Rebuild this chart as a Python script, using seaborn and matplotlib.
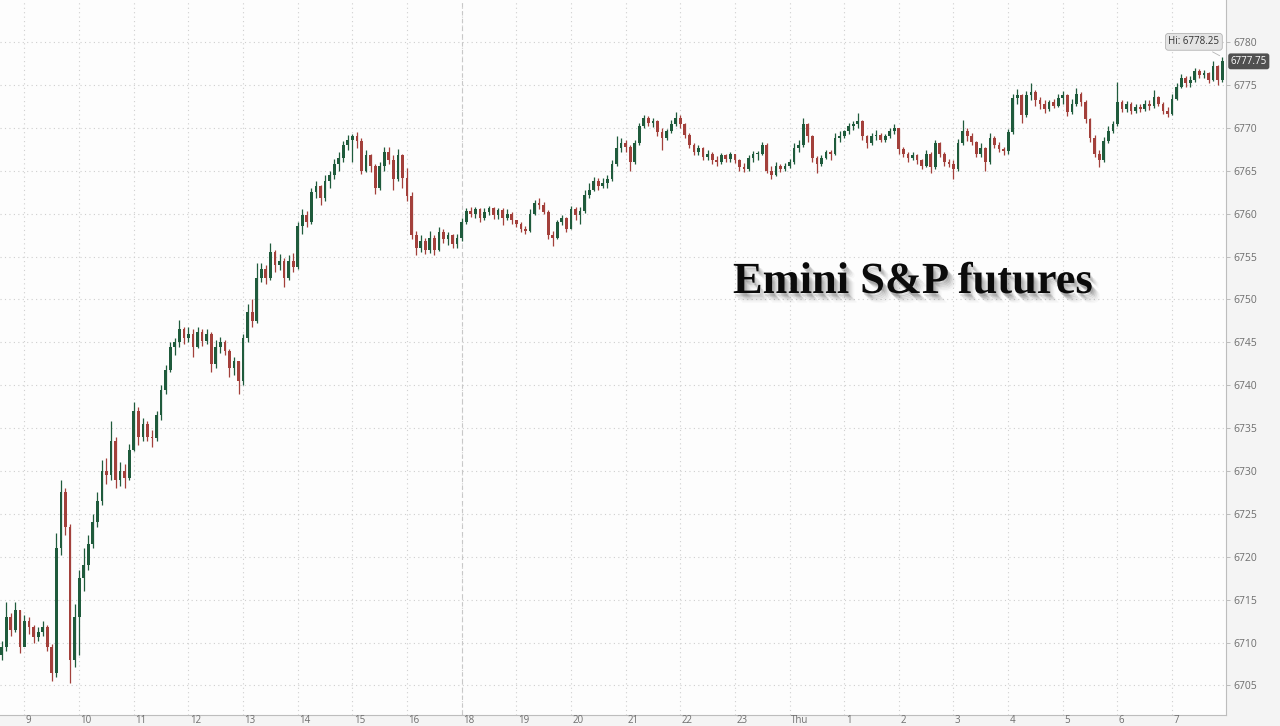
import numpy as np
import matplotlib
matplotlib.use("Agg")
import matplotlib.pyplot as plt
import matplotlib.patheffects as pe
import matplotlib.transforms as mtransforms
import seaborn as sns

# 5-minute bars of the Emini S&P future, 08:35 -> 07:55 next morning
# (the 17:00-18:00 maintenance break is skipped, so bars are contiguous)
first_open = 6708.5

closes = [
    # 08:35-08:55
    6709.5, 6713.0, 6711.5, 6713.8, 6709.5,
    # 9
    6712.5, 6711.8, 6710.6, 6711.2, 6711.8, 6709.5, 6706.5, 6721.0, 6727.5, 6723.5, 6708.0, 6713.0,
    # 10
    6717.5, 6719.0, 6721.5, 6724.0, 6726.5, 6730.0, 6729.5, 6733.5, 6729.0, 6730.0, 6729.2, 6732.5,
    # 11
    6737.0, 6734.0, 6735.5, 6734.0, 6733.8, 6736.5, 6739.5, 6741.8, 6744.5, 6745.0, 6746.5, 6745.5,
    # 12
    6746.0, 6744.5, 6746.2, 6745.2, 6746.0, 6742.5, 6744.5, 6745.0, 6744.0, 6742.0, 6742.8, 6740.5,
    # 13
    6745.5, 6748.5, 6747.5, 6752.5, 6753.5, 6752.5, 6755.5, 6754.0, 6754.5, 6752.5, 6754.5, 6753.8,
    # 14
    6758.5, 6759.8, 6759.0, 6762.5, 6763.2, 6761.8, 6763.8, 6764.5, 6765.8, 6766.5, 6768.0, 6768.6,
    # 15
    6769.0, 6768.5, 6765.0, 6766.8, 6765.5, 6763.0, 6765.5, 6767.2, 6766.3, 6764.0, 6766.8, 6764.2,
    # 16
    6762.0, 6757.5, 6756.0, 6756.8, 6755.8, 6757.2, 6755.8, 6757.8, 6757.0, 6757.5, 6756.5, 6757.2,
    # 18
    6759.0, 6760.3, 6760.0, 6760.5, 6759.5, 6760.2, 6760.6, 6759.8, 6760.4, 6759.5, 6760.0, 6759.2,
    # 19
    6758.8, 6758.2, 6758.0, 6760.0, 6761.2, 6761.0, 6760.2, 6757.5, 6757.2, 6759.0, 6759.5, 6758.2,
    # 20
    6760.5, 6759.8, 6760.3, 6762.2, 6762.8, 6763.8, 6763.2, 6763.6, 6764.0, 6765.8, 6767.6, 6768.2,
    # 21
    6767.8, 6766.0, 6768.2, 6770.2, 6771.2, 6770.6, 6770.8, 6769.5, 6768.8, 6769.6, 6770.5, 6771.2,
    # 22
    6770.5, 6769.2, 6768.0, 6767.2, 6767.6, 6766.6, 6767.0, 6766.2, 6766.0, 6766.8, 6766.4, 6766.9,
    # 23
    6766.2, 6765.4, 6765.2, 6766.5, 6766.9, 6767.0, 6768.0, 6765.0, 6764.5, 6765.6, 6765.2, 6765.6,
    # Thu 0
    6766.0, 6767.6, 6768.0, 6770.4, 6769.0, 6766.5, 6765.8, 6766.5, 6767.2, 6766.9, 6768.8, 6769.0,
    # 1
    6769.6, 6770.2, 6770.5, 6770.8, 6769.0, 6768.2, 6769.0, 6769.2, 6768.6, 6769.0, 6769.6, 6770.0,
    # 2
    6767.5, 6767.0, 6766.5, 6766.8, 6766.2, 6765.6, 6767.0, 6765.4, 6768.2, 6767.0, 6766.0, 6765.8,
    # 3
    6765.2, 6768.2, 6769.6, 6769.0, 6768.4, 6767.0, 6767.6, 6766.0, 6768.8, 6768.0, 6767.5, 6767.3,
    # 4
    6769.5, 6773.5, 6773.8, 6771.5, 6773.8, 6774.2, 6773.2, 6772.8, 6772.2, 6773.0, 6772.6, 6773.5,
    # 5
    6773.8, 6771.8, 6772.8, 6774.0, 6773.0, 6771.0, 6768.8, 6767.0, 6766.2, 6768.5, 6769.6, 6770.4,
    # 6
    6773.0, 6772.2, 6772.8, 6772.0, 6772.4, 6772.2, 6772.8, 6772.5, 6773.6, 6772.8, 6772.0, 6771.6,
    # 7
    6773.4, 6774.8, 6775.8, 6775.2, 6775.6, 6776.6, 6776.2, 6776.4, 6775.6, 6777.2, 6775.6, 6777.75,
]

highs = [
    6710.2, 6714.7, 6713.5, 6714.7, 6713.8,
    6713.2, 6713.0, 6712.0, 6711.8, 6712.5, 6712.0, 6709.8, 6722.8, 6729.0, 6728.0, 6723.8, 6714.5,
    6718.5, 6721.0, 6722.5, 6725.0, 6727.5, 6731.3, 6731.5, 6735.8, 6734.0, 6731.0, 6730.8, 6733.2,
    6738.0, 6737.5, 6736.2, 6735.8, 6734.8, 6737.0, 6740.0, 6742.3, 6745.0, 6745.5, 6747.6, 6746.8,
    6746.8, 6746.5, 6746.8, 6746.6, 6746.6, 6746.2, 6745.3, 6745.6, 6745.3, 6744.2, 6743.3, 6742.8,
    6746.0, 6749.5, 6750.0, 6754.3, 6754.2, 6754.0, 6756.6, 6755.8, 6755.3, 6754.8, 6755.2, 6755.4,
    6759.0, 6760.5, 6760.3, 6763.0, 6763.8, 6763.3, 6764.5, 6765.0, 6766.4, 6767.2, 6768.5, 6769.2,
    6769.3, 6769.5, 6768.8, 6767.4, 6767.0, 6765.8, 6766.0, 6767.8, 6767.8, 6766.8, 6767.5, 6767.0,
    6765.3, 6762.5, 6758.0, 6757.5, 6757.2, 6758.0, 6757.5, 6758.4, 6758.2, 6757.8, 6757.6, 6757.6,
    6759.5, 6760.7, 6760.8, 6760.8, 6760.6, 6760.6, 6760.9, 6760.8, 6760.7, 6760.6, 6760.5, 6760.2,
    6759.3, 6759.0, 6758.6, 6760.5, 6761.6, 6761.8, 6761.3, 6760.4, 6758.0, 6759.3, 6759.8, 6759.6,
    6760.9, 6760.8, 6760.8, 6762.8, 6763.6, 6764.3, 6764.2, 6764.2, 6764.5, 6766.2, 6769.0, 6768.8,
    6768.6, 6768.0, 6768.6, 6770.6, 6771.5, 6771.4, 6771.2, 6770.9, 6770.0, 6769.9, 6770.9, 6771.8,
    6771.5, 6770.6, 6769.4, 6768.2, 6768.0, 6767.8, 6767.4, 6767.2, 6766.7, 6767.1, 6767.0, 6767.2,
    6767.0, 6766.4, 6765.9, 6766.8, 6767.3, 6767.3, 6768.4, 6768.2, 6765.5, 6766.0, 6765.8, 6765.9,
    6766.4, 6768.2, 6768.6, 6771.2, 6770.6, 6769.2, 6766.7, 6766.8, 6767.4, 6767.4, 6769.4, 6769.6,
    6769.8, 6770.6, 6770.8, 6771.7, 6770.9, 6769.2, 6769.4, 6769.8, 6769.4, 6769.3, 6770.0, 6770.5,
    6770.0, 6767.8, 6767.2, 6767.2, 6767.0, 6766.4, 6767.4, 6767.2, 6768.6, 6768.4, 6767.2, 6766.4,
    6766.2, 6768.7, 6770.9, 6770.0, 6769.4, 6768.5, 6768.2, 6767.8, 6769.4, 6769.0, 6768.4, 6767.8,
    6769.9, 6774.0, 6774.5, 6774.0, 6774.3, 6775.2, 6774.4, 6773.6, 6773.2, 6773.3, 6773.4, 6774.0,
    6774.3, 6773.9, 6773.4, 6774.6, 6774.2, 6773.2, 6771.2, 6769.2, 6767.4, 6768.9, 6770.2, 6770.8,
    6775.4, 6773.2, 6773.1, 6773.0, 6772.8, 6772.8, 6773.2, 6773.2, 6774.4, 6773.7, 6773.0, 6772.4,
    6773.9, 6775.2, 6776.3, 6776.0, 6776.0, 6777.0, 6776.9, 6776.7, 6776.5, 6777.8, 6777.3, 6778.25,
]

lows = [
    6708.0, 6709.0, 6710.8, 6711.2, 6708.8,
    6711.0, 6711.0, 6710.0, 6710.2, 6710.8, 6709.0, 6705.5, 6706.0, 6720.2, 6722.5, 6705.3, 6707.2,
    6708.6, 6716.0, 6718.5, 6721.0, 6723.5, 6726.0, 6728.5, 6729.0, 6728.0, 6728.3, 6728.0, 6729.0,
    6732.3, 6733.0, 6733.5, 6733.5, 6732.8, 6733.5, 6736.0, 6739.0, 6741.5, 6743.5, 6744.5, 6744.8,
    6745.0, 6743.3, 6744.3, 6744.6, 6744.8, 6741.5, 6742.0, 6743.8, 6743.5, 6741.0, 6741.2, 6739.0,
    6740.0, 6745.0, 6746.8, 6747.2, 6752.0, 6751.8, 6752.3, 6753.2, 6753.4, 6751.5, 6752.3, 6753.2,
    6753.5, 6757.6, 6758.4, 6758.8, 6761.8, 6761.0, 6761.5, 6763.0, 6764.0, 6765.0, 6766.0, 6767.4,
    6766.0, 6767.6, 6764.6, 6764.8, 6764.8, 6762.3, 6762.8, 6765.0, 6765.8, 6762.8, 6763.8, 6763.0,
    6761.5, 6757.0, 6755.2, 6755.5, 6755.3, 6755.4, 6755.2, 6755.6, 6756.6, 6756.4, 6756.0, 6756.0,
    6756.8, 6758.8, 6759.6, 6759.5, 6759.0, 6759.3, 6759.8, 6759.4, 6759.4, 6758.7, 6759.3, 6758.8,
    6758.4, 6757.8, 6757.6, 6757.9, 6759.8, 6760.5, 6760.0, 6757.0, 6756.2, 6757.0, 6758.7, 6757.9,
    6758.2, 6759.3, 6758.8, 6760.1, 6761.8, 6762.6, 6762.8, 6763.0, 6763.0, 6763.8, 6765.5, 6767.2,
    6767.2, 6765.0, 6765.8, 6768.0, 6770.0, 6770.2, 6770.1, 6769.0, 6767.4, 6768.6, 6769.4, 6770.2,
    6770.0, 6768.8, 6767.6, 6766.8, 6766.8, 6766.2, 6766.2, 6765.8, 6765.5, 6765.8, 6766.0, 6766.0,
    6765.9, 6765.0, 6764.8, 6765.0, 6766.0, 6766.3, 6766.8, 6764.7, 6764.0, 6764.4, 6764.9, 6765.0,
    6765.3, 6765.8, 6767.2, 6767.8, 6768.4, 6766.0, 6764.7, 6765.5, 6766.4, 6766.2, 6766.8, 6768.3,
    6768.8, 6769.3, 6769.8, 6770.0, 6768.6, 6767.6, 6768.0, 6768.6, 6768.3, 6768.3, 6768.8, 6769.3,
    6767.0, 6766.6, 6766.0, 6766.2, 6765.8, 6765.2, 6765.4, 6764.7, 6765.2, 6766.6, 6765.6, 6765.4,
    6764.0, 6765.0, 6768.0, 6768.5, 6768.0, 6766.6, 6766.6, 6765.0, 6765.8, 6767.6, 6767.2, 6766.8,
    6767.0, 6769.3, 6772.8, 6770.6, 6771.3, 6773.2, 6772.6, 6772.2, 6771.7, 6772.0, 6772.3, 6772.4,
    6772.8, 6771.4, 6771.6, 6772.6, 6772.6, 6770.6, 6768.4, 6766.6, 6765.4, 6766.0, 6768.2, 6769.4,
    6770.2, 6771.8, 6771.9, 6771.6, 6771.7, 6771.8, 6772.0, 6772.1, 6772.3, 6772.5, 6771.6, 6771.3,
    6771.5, 6773.2, 6774.6, 6774.8, 6774.8, 6775.4, 6775.8, 6775.8, 6775.2, 6775.5, 6775.0, 6775.4,
]

hour_labels = ["9", "10", "11", "12", "13", "14", "15", "16", "18", "19", "20", "21",
               "22", "23", "Thu", "1", "2", "3", "4", "5", "6", "7"]
session_break_label = "18"
title_text = "Emini S&P futures"

GREEN = "#1f5b3c"
RED = "#a3403b"
GRID = "#cfcfcf"
LABEL = "#6e6e6e"

sns.set_theme(style="white")
plt.rcParams["font.family"] = ["Open Sans", "DejaVu Sans"]

c = np.array(closes)
o = np.concatenate([[first_open], c[:-1]])
h = np.array(highs)
l = np.array(lows)
x = np.arange(len(c))
up = c >= o
cols = np.where(up, GREEN, RED)

W, H = 1280, 726
fig = plt.figure(figsize=(W / 100, H / 100), dpi=100, facecolor="#f4f4f4")
ax = fig.add_axes([0, 11 / H, 1226 / W, 715 / H])
ax.set_facecolor("#fdfdfd")

# --- grid + session break
tick_pos = [5 + 12 * k for k in range(len(hour_labels))]
ax.set_xticks(tick_pos)
ax.set_yticks(np.arange(6705, 6781, 5))
ax.grid(True, color=GRID, linestyle=(0, (1, 3)), linewidth=0.8)
ax.axvline(tick_pos[hour_labels.index(session_break_label)], color="#c8c8c8",
           linestyle=(0, (4, 3)), linewidth=0.8, zorder=1)

# --- candles
ax.vlines(x, l, h, colors=cols, linewidth=0.9, zorder=3)
ax.bar(x, np.maximum(np.abs(c - o), 0.15), bottom=np.minimum(o, c), width=0.6,
       color=cols, linewidth=0, zorder=4)

ax.set_xlim(-0.38, 268.84)
ax.set_ylim(6701.56, 6784.9)

# --- axes styling
for side in ["top", "left"]:
    ax.spines[side].set_visible(False)
for side in ["bottom", "right"]:
    ax.spines[side].set_color("#bdbdbd")
    ax.spines[side].set_linewidth(0.8)

ax.yaxis.tick_right()
ax.tick_params(axis="y", direction="out", length=3, width=0.7, color="#bdbdbd",
               labelsize=7.5, labelcolor=LABEL, pad=2)
ax.tick_params(axis="x", direction="in", length=3, width=0.7, color="#bdbdbd",
               labelbottom=False)

xlab_tr = mtransforms.offset_copy(ax.get_xaxis_transform(), fig=fig, x=1.5, y=-5.5, units="dots")
for pos, lab in zip(tick_pos, hour_labels):
    ax.text(pos, 0, lab, transform=xlab_tr, ha="left", va="center", fontsize=7,
            color=LABEL, clip_on=False)

# --- hi marker and last price tag
ax.annotate("Hi: 6778.25", xy=(x[-1], h[-1]), xytext=(-2, 7), textcoords="offset points",
            ha="right", va="bottom", fontsize=7, color="#333333",
            bbox=dict(boxstyle="round,pad=0.3", fc="#e4e4e4", ec="#b5b5b5", lw=0.6),
            arrowprops=dict(arrowstyle="-", color="#b5b5b5", lw=0.6), zorder=6)

tag_tr = mtransforms.blended_transform_factory(ax.transAxes, ax.transData)
ax.text(1.0038, c[-1], f"{c[-1]:.2f}", transform=tag_tr, ha="left", va="center",
        fontsize=7, color="white", clip_on=False, zorder=6,
        bbox=dict(boxstyle="round,pad=0.25", fc="#505050", ec="none"))

# --- title with a soft drop shadow
shadow = [pe.SimplePatchShadow(offset=(d, -d - 1), shadow_rgbFace="#444444", alpha=a)
          for d, a in [(1, 0.16), (2, 0.14), (3, 0.11), (4, 0.08), (5, 0.05), (6, 0.03)]]
fig.text(733 / W, 1 - 282 / H, title_text, ha="left", va="center", fontsize=32,
         fontweight="bold", family=["Liberation Serif", "DejaVu Serif"], color="#0b0b0b",
         path_effects=shadow + [pe.Normal()])

fig.savefig("out.png", dpi=100, facecolor=fig.get_facecolor())
